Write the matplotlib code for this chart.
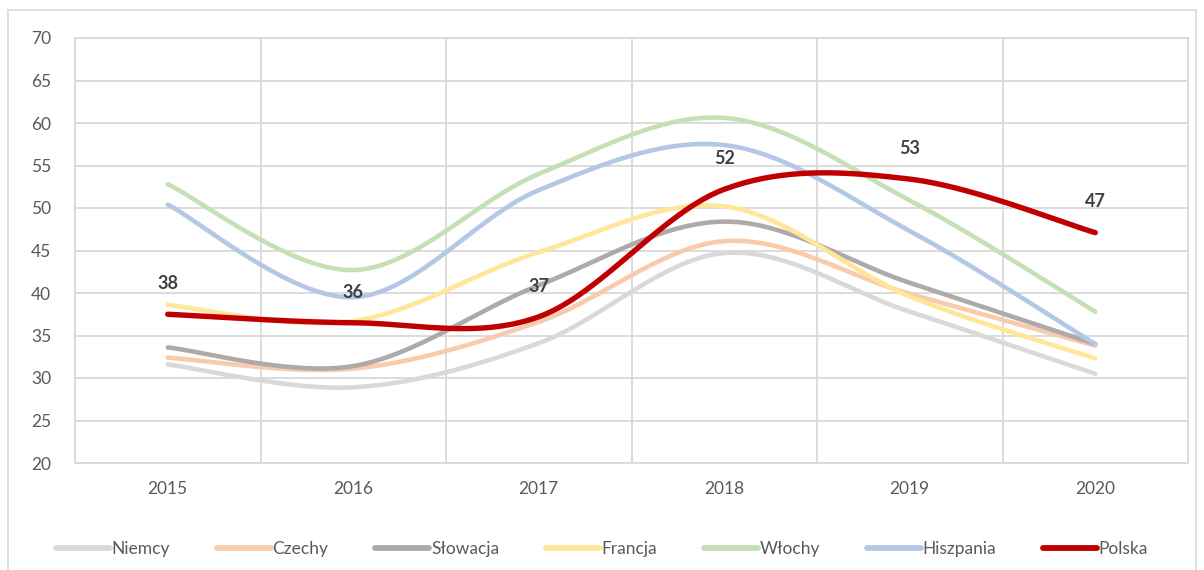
import numpy as np
import matplotlib.pyplot as plt
from matplotlib.patches import Rectangle

plt.rcParams['font.family'] = ['Lato', 'DejaVu Sans']

years = ['2015', '2016', '2017', '2018', '2019', '2020']

niemcy = [31.6, 28.9, 34.1, 44.7, 37.8, 30.5]
czechy = [32.4, 31.1, 36.6, 46.1, 39.9, 33.8]
slowacja = [33.6, 31.4, 40.9, 48.4, 41.2, 34.0]
francja = [38.6, 36.7, 44.8, 50.2, 39.6, 32.3]
wlochy = [52.8, 42.7, 54.0, 60.6, 50.9, 37.8]
hiszpania = [50.4, 39.5, 52.1, 57.4, 47.3, 34.0]
polska = [37.5, 36.5, 37.2, 52.2, 53.4, 47.1]

names = ['Niemcy', 'Czechy', 'Słowacja', 'Francja', 'Włochy', 'Hiszpania', 'Polska']
colors = ['#D9D9D9', '#F8CBAD', '#AEAAAA', '#FFE699', '#C5E0B4', '#B4C7E7', '#C00000']


def smooth(xs, ys, n=40):
    # Excel-style smoothed line: cubic bezier with Catmull-Rom control points
    p = np.column_stack([xs, ys]).astype(float)
    p = np.vstack([p[0], p, p[-1]])
    out = []
    for i in range(1, len(p) - 2):
        p0, p1, p2, p3 = p[i], p[i] + (p[i + 1] - p[i - 1]) / 6, p[i + 1] - (p[i + 2] - p[i]) / 6, p[i + 1]
        t = np.linspace(0, 1, n)[:, None]
        seg = (1 - t) ** 3 * p0 + 3 * (1 - t) ** 2 * t * p1 + 3 * (1 - t) * t ** 2 * p2 + t ** 3 * p3
        out.append(seg if i == 1 else seg[1:])
    out = np.vstack(out)
    return out[:, 0], out[:, 1]


fig = plt.figure(figsize=(12.04, 5.7), dpi=100)
fig.patches.append(Rectangle((8 / 1204, -0.1), (1196 - 8) / 1204, (560 / 570) + 0.1,
                             transform=fig.transFigure, fill=False, edgecolor='#D9D9D9', lw=1.2))
ax = fig.add_axes([75 / 1204, 107 / 570, 1113 / 1204, 425 / 570])

x = np.arange(len(years))
series = [niemcy, czechy, slowacja, francja, wlochy, hiszpania, polska]
for name, vals, c in zip(names, series, colors):
    sx, sy = smooth(x, vals)
    lw = 3.9 if name == 'Polska' else 3.3
    ax.plot(sx, sy, color=c, lw=lw, solid_capstyle='round', label=name)

for xi, v in zip(x, polska):
    ax.annotate(f'{v:.0f}', (xi, v), xytext=(0, 16), textcoords='offset points',
                ha='center', va='bottom', fontsize=13, fontweight='bold', color='#404040')

ax.set_xlim(-0.5, len(years) - 0.5)
ax.set_ylim(20, 70)
ax.set_yticks(range(20, 71, 5))
ax.set_xticks(x)
ax.set_xticklabels(years)
ax.set_xticks(np.arange(-0.5, len(years), 1), minor=True)
ax.grid(True, which='major', axis='y', color='#D9D9D9', lw=1.3)
ax.grid(True, which='minor', axis='x', color='#D9D9D9', lw=1.3)
ax.set_axisbelow(True)
for s in ax.spines.values():
    s.set_color('#D9D9D9')
    s.set_linewidth(1.3)
ax.tick_params(axis='both', which='both', length=0, labelsize=12.5, labelcolor='#595959')
ax.tick_params(axis='y', pad=17)
ax.tick_params(axis='x', pad=13)

leg = fig.legend(loc='lower center', bbox_to_anchor=(0.5, -0.005), ncol=7, frameon=False,
                 fontsize=12.5, labelcolor='#595959', handlelength=3.1, handletextpad=0.1,
                 columnspacing=2.7)
for h in leg.get_lines():
    h.set_linewidth(4.2)

fig.savefig('out.png', dpi=100)
